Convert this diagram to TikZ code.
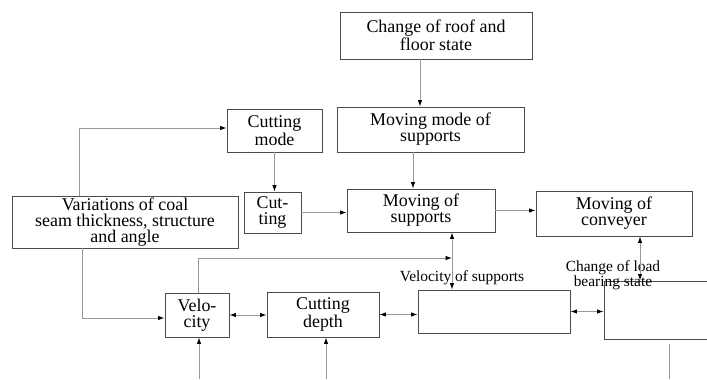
\documentclass[tikz,border=0pt]{standalone}
\usepackage{fontspec}
\setmainfont{Liberation Serif}
\usetikzlibrary{arrows.meta}

\tikzset{
  box/.style={draw=black!70, line width=0.9bp, align=center, inner sep=1bp,
    font=\fontsize{18}{16}\selectfont},
  con/.style={draw=black!40, line width=0.9bp},
  lbl/.style={align=center, inner sep=0pt, font=\fontsize{15.5}{15}\selectfont},
  >={Latex[length=6.5bp,width=4.5bp,color=black]}
}

\begin{document}
\begin{tikzpicture}[x=1bp, y=-1bp]
                \useasboundingbox (0,0) rectangle (707,379);
                \clip (0,0) rectangle (707,379);

                %% upper row
                \node[box, minimum width=192bp, minimum height=47bp] (roof) at (436,35.5) {Change of roof and\\floor state};
                \node[box, minimum width=187bp, minimum height=45bp] (movmode) at (430.5,129.5) {Moving mode of\\supports};
                \node[box, minimum width=95bp, minimum height=43bp] (cutmode) at (274.5,130.5) {Cutting\\mode};

                %% middle row
                \node[box, minimum width=226bp, minimum height=52bp] (var) at (125,222) {Variations of coal\\seam thickness, structure\\and angle};
                \node[box, minimum width=57bp, minimum height=41bp] (cutting) at (272.5,212.5) {Cut-\\ting};
                \node[box, minimum width=148bp, minimum height=43bp] (movsup) at (421,210.5) {Moving of\\supports};
                \node[box, minimum width=156bp, minimum height=45bp] (conv) at (614,213.5) {Moving of\\conveyer};

                %% lower row
                \node[box, minimum width=64bp, minimum height=44bp] (vel) at (197,315) {Velo-\\city};
                \node[box, minimum width=112bp, minimum height=45bp] (depth) at (323,314.5) {Cutting\\depth};
                \node[box, minimum width=152bp, minimum height=43bp] (empty) at (494,311.5) {};
                \node[box, minimum width=136bp, minimum height=58bp] (right) at (672,310) {};

                %% labels
                \node[lbl] (vsup) at (462,278) {Velocity of supports};
                \node[lbl] (load) at (613,275) {Change of load\\bearing state};

                %% free ends
                \coordinate (vs) at (452,258);
                \coordinate (velin) at (199,379);
                \coordinate (depthin) at (326,379);
                \coordinate (rightout) at (669,344);
                \coordinate (rightend) at (669,379);

                %% connectors
                \draw[con,->] ([xshift=-16bp]roof.south) -- ([xshift=-16bp]roof.south |- movmode.north);
                \draw[con,->] ([xshift=-17.5bp]movmode.south) -- ([xshift=-17.5bp]movmode.south |- movsup.north);
                \draw[con,->] (cutmode.south) -- (cutmode.south |- cutting.north);
                \draw[con,->] (cutting.east) -- (cutting.east -| movsup.west);
                \draw[con,->] (movsup.east) -- (movsup.east -| conv.west);
                \draw[con,->] ([xshift=-46bp]var.north) |- ([yshift=2.5bp]cutmode.west);
                \draw[con,->] ([xshift=-43bp]var.south) |- ([yshift=-3bp]vel.west);
                \draw[con,<->] (vel.east) -- (vel.east -| depth.west);
                \draw[con,<->] (depth.east) -- (depth.east -| empty.west);
                \draw[con,<->] (empty.east) -- (empty.east -| right.west);
                \draw[con,<->] (vs |- movsup.south) -- (vs |- empty.north);
                \draw[con,->] ([xshift=1bp]vel.north) |- (vs);
                \draw[con,<->] ([xshift=26bp]conv.south) -- ([xshift=26bp]conv.south |- right.north);
                \draw[con,->] (velin) -- (velin |- vel.south);
                \draw[con,->] (depthin) -- (depthin |- depth.south);
                \draw[con] (rightout) -- (rightend);

\end{tikzpicture}
\end{document}
